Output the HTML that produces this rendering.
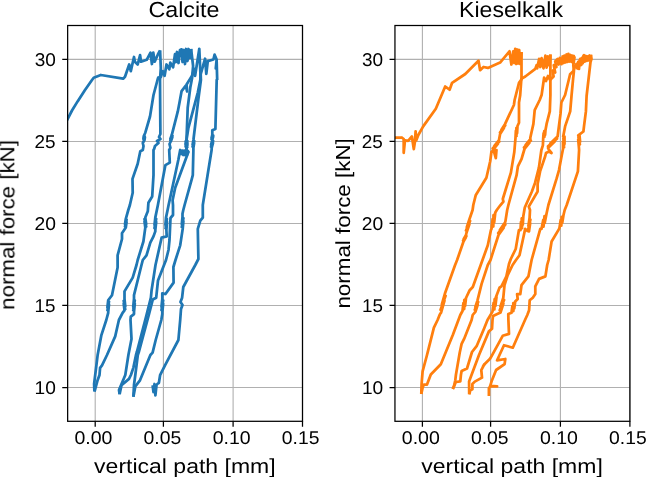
<!DOCTYPE html>
<html lang="en"><head><meta charset="utf-8"><title>Calcite / Kieselkalk normal force vs vertical path</title>
<style>html,body{margin:0;padding:0;background:#fff}body{width:646px;height:477px;overflow:hidden;font-family:"Liberation Sans",sans-serif}</style>
</head><body>
<svg width="646" height="477" viewBox="0 0 646 477" style="display:block;font-family:'Liberation Sans',sans-serif">
<rect width="646" height="477" fill="#fff"/>
<defs>
<clipPath id="c0"><rect x="67.65" y="25.5" width="234.85" height="395.8"/></clipPath>
<clipPath id="c1"><rect x="394.95" y="25.5" width="234.95" height="395.8"/></clipPath>
</defs>
<path d="M95.20,25.5V421.3M163.40,25.5V421.3M233.10,25.5V421.3M302.50,25.5V421.3M67.65,387.50H302.5M67.65,305.48H302.5M67.65,223.45H302.5M67.65,141.43H302.5M67.65,59.40H302.5" stroke="#b0b0b0" stroke-width="1.1" fill="none"/>
<g clip-path="url(#c0)">
<polyline points="66.0,122.0 67.6,119.0 72.0,110.5 77.6,101.4 85.0,90.0 92.0,80.0 93.7,77.7 100.8,75.0 123.1,78.7 125.0,76.8 129.2,64.5 130.8,71.1 134.0,57.0 134.9,61.7 137.7,64.5 140.1,55.1 141.0,61.7 146.7,59.8 150.5,52.7 151.9,64.0 153.3,52.7 154.7,61.7 158.0,54.2 160.1,50.4" fill="none" stroke="#1f77b4" stroke-width="2.75" stroke-linejoin="round" stroke-linecap="butt"/>
<polyline points="160.1,50.4 160.8,68.3 160.0,80.0 160.4,134.0 159.0,137.0 160.5,139.0 157.0,141.0 158.5,143.0 155.0,146.0 154.1,149.1 153.5,150.0 153.5,175.2 152.2,196.5 148.4,202.8 147.8,211.3 145.3,217.6 145.3,217.6 146.2,224.1 144.5,219.1 146.2,226.6 144.5,221.6 145.3,227.6 145.3,227.6 143.4,241.5 137.7,260.0 136.5,265.0 132.7,277.6 124.5,291.4 124.5,299.0 125.3,306.3 123.7,300.7 125.3,309.2 123.7,303.5 124.5,310.3 124.5,310.3 122.6,312.8 118.9,320.0 115.2,336.4 107.0,355.0 102.0,365.3 100.1,367.8 99.5,375.0 97.6,380.2 95.0,390.0 94.4,391.5" fill="none" stroke="#1f77b4" stroke-width="2.75" stroke-linejoin="round" stroke-linecap="butt"/>
<polyline points="94.4,391.5 94.1,384.0 97.6,355.3 101.4,335.1 106.3,320.0 108.2,312.8 108.2,312.0 109.0,304.4 107.4,310.2 109.0,301.5 107.4,307.3 108.2,300.3 108.2,300.3 112.0,295.2 117.6,267.5 117.6,255.3 122.0,239.0 122.0,233.3 125.8,227.6 125.8,227.6 126.6,221.9 125.0,226.3 126.6,219.7 125.0,224.1 125.8,218.8 125.8,218.8 128.3,210.0 129.9,205.0 132.7,192.8 132.5,178.9 137.7,163.8 140.3,151.3 142.8,150.0 143.5,146.0 142.8,143.0 144.5,140.0 144.5,140.0 144.9,137.4 143.5,139.4 144.7,136.4 143.4,138.4 143.8,136.0 143.8,136.0 145.3,132.7 150.0,116.5 153.5,95.0 157.5,80.0 158.2,77.7 160.8,77.0 162.7,71.1 164.6,75.8 166.5,64.5 169.3,69.2 170.3,62.6 173.1,67.4 175.0,54.2 176.0,62.0 177.0,52.0 178.5,63.0 180.0,50.0 181.6,49.4 182.5,62.0 183.5,50.0 185.0,64.0 186.0,49.0 187.5,61.0 188.5,49.0 190.0,58.0 191.1,48.8" fill="none" stroke="#1f77b4" stroke-width="2.75" stroke-linejoin="round" stroke-linecap="butt"/>
<polyline points="191.1,48.8 193.1,66.0 192.1,78.0 190.3,87.5 187.7,107.7 186.5,140.0 186.5,140.0 187.3,145.1 185.7,141.2 187.3,147.1 185.7,143.2 186.5,147.9 186.5,150.0 188.5,152.0 187.7,153.8 175.2,187.7 172.6,200.3 173.0,205.0 173.0,215.0 170.5,218.0 169.5,240.0 168.5,250.0 166.0,260.0 158.0,280.5 156.2,297.7 152.8,299.5 148.8,315.0 139.0,351.5 137.8,355.0 135.3,375.0 134.0,385.0 133.4,396.8" fill="none" stroke="#1f77b4" stroke-width="2.75" stroke-linejoin="round" stroke-linecap="butt"/>
<polyline points="119.6,394.2 121.5,385.2 129.0,378.9 130.9,375.0 133.4,367.6 136.0,355.0 137.0,351.5 146.5,315.0 150.9,297.7 151.6,290.2 155.5,265.0 161.6,237.7 166.7,236.4 166.4,230.0 166.4,230.0 167.0,221.9 165.5,228.1 166.9,218.8 165.4,225.0 166.0,217.6 166.0,217.6 167.6,210.0 168.6,205.0 178.3,160.0 180.2,150.0 181.3,154.0 182.2,150.6 183.2,155.0 184.2,150.6 185.2,155.2 186.0,150.6 187.0,155.0 187.8,151.0 186.5,150.0 186.5,147.9 187.3,142.8 185.7,146.7 187.3,140.8 185.7,144.7 186.5,140.0 186.5,140.0 188.4,127.8 197.8,92.6 200.3,80.0 200.7,74.0" fill="none" stroke="#1f77b4" stroke-width="2.75" stroke-linejoin="round" stroke-linecap="butt"/>
<polyline points="119.6,394.2 119.0,390.0 125.3,375.0 128.4,355.0 131.5,338.9 130.5,320.0 130.8,316.6 134.0,314.1 134.0,312.0 134.8,303.6 133.2,310.1 134.8,300.3 133.2,306.8 134.0,299.0 134.0,295.2 141.5,265.0 142.8,260.0 146.5,255.3 150.3,242.7 153.5,236.4 155.3,231.4 155.3,230.0 156.2,221.9 154.5,228.1 156.2,218.8 154.5,225.0 155.3,217.6 155.3,217.6 157.9,205.0 165.4,165.1 169.8,162.6 169.2,150.0 170.4,147.8 169.5,144.0 171.0,141.0 171.0,141.0 172.3,137.3 170.3,140.1 172.5,135.9 170.4,138.7 171.7,135.3 171.7,135.3 177.8,111.4 179.6,102.0 181.6,91.1 185.8,85.6 187.1,91.5 186.6,84.5 191.9,75.9 194.3,68.8 195.1,75.9 199.3,48.8 200.7,80.0" fill="none" stroke="#1f77b4" stroke-width="2.75" stroke-linejoin="round" stroke-linecap="butt"/>
<polyline points="133.4,396.8 135.3,386.4 140.0,380.3 150.4,355.0 152.6,352.6 155.7,340.0 161.3,320.0 162.3,314.0 162.3,312.0 163.2,303.6 161.5,310.1 163.2,300.3 161.5,306.8 162.3,299.0 162.3,293.3 165.5,294.0 173.6,282.6 173.4,267.0 175.5,260.0 180.2,245.3 182.7,228.9 182.7,228.9 183.4,221.2 181.8,227.1 183.4,218.2 181.8,224.1 182.5,217.0 182.5,213.8 183.3,210.0 184.6,205.0 191.5,180.2 192.8,175.2 193.4,150.0 193.4,147.9 194.2,142.8 192.6,146.7 194.2,140.8 192.6,144.7 193.4,140.0 193.4,140.0 198.4,98.9 200.9,80.0 200.7,74.0 205.1,58.7 206.3,73.8 207.8,61.1 213.4,59.5 214.6,54.7 216.6,59.5 215.8,68.3 216.6,59.5 217.2,80.0" fill="none" stroke="#1f77b4" stroke-width="2.75" stroke-linejoin="round" stroke-linecap="butt"/>
<polyline points="152.6,385.2 153.5,392.0 154.5,384.0 155.4,395.3 156.5,385.0 157.3,384.0 158.9,382.8 160.1,375.2 165.0,365.3 178.4,340.0 180.2,320.0 181.0,309.0 182.5,305.0 180.5,302.0 182.1,297.7 183.3,287.0 195.3,265.0 198.4,259.0 197.8,228.9 200.3,220.7 202.8,217.6 202.8,205.0 211.6,150.0 211.7,147.9 213.0,142.8 211.0,146.7 213.1,140.8 211.1,144.7 212.3,140.0 212.3,140.0 212.3,140.0 213.2,136.7 211.5,139.2 213.2,135.4 211.5,138.0 212.3,134.9 212.3,130.3 215.4,129.0 216.7,80.0 217.2,80.0" fill="none" stroke="#1f77b4" stroke-width="2.75" stroke-linejoin="round" stroke-linecap="butt"/>
</g>
<path d="M95.20,421.3v5.5M163.40,421.3v5.5M233.10,421.3v5.5M302.50,421.3v5.5M67.65,387.50h-5.4M67.65,305.48h-5.4M67.65,223.45h-5.4M67.65,141.43h-5.4M67.65,59.40h-5.4" stroke="#000" stroke-width="1.25" fill="none"/>
<rect x="67.65" y="25.5" width="234.85" height="395.80" fill="none" stroke="#000" stroke-width="1.25"/>
<path d="M422.40,25.5V421.3M490.60,25.5V421.3M560.40,25.5V421.3M629.90,25.5V421.3M394.95,387.50H629.9M394.95,305.48H629.9M394.95,223.45H629.9M394.95,141.43H629.9M394.95,59.40H629.9" stroke="#b0b0b0" stroke-width="1.1" fill="none"/>
<g clip-path="url(#c1)">
<polyline points="392.0,137.7 395.5,137.7 401.8,137.5 403.7,139.0 403.7,152.8 405.0,140.3 408.1,140.9 411.9,136.5 413.8,149.1 415.0,141.5 415.6,131.4 416.3,140.3 418.2,135.2 423.2,126.4 435.8,108.8 439.5,100.0 445.2,86.5 449.6,89.7 452.1,82.8 465.3,74.0 478.5,60.8 480.1,70.2 483.5,67.0 487.9,67.9 500.1,62.6 509.5,51.3 511.4,64.5 513.3,51.3 514.2,63.0 515.2,48.8 516.2,64.0 517.2,49.5 518.2,63.5 519.2,50.0 520.2,64.0 521.5,52.0" fill="none" stroke="#ff7f0e" stroke-width="2.75" stroke-linejoin="round" stroke-linecap="butt"/>
<polyline points="521.5,52.0 521.5,77.0 520.2,95.0 519.0,102.5 519.0,122.7 517.5,126.0 517.1,133.1 516.4,127.8 516.6,136.0 515.9,130.7 515.5,137.8 514.3,152.0 510.9,172.6 502.8,199.0 503.4,201.6 500.3,205.3 496.8,210.0 495.3,212.5 495.3,212.5 494.2,222.4 493.5,215.0 493.3,226.5 492.6,219.1 491.5,229.0 490.9,230.2 487.8,245.3 482.5,260.0 472.8,287.0 469.7,290.2 466.0,298.0 466.0,298.0 465.1,305.8 464.3,299.9 464.2,309.1 463.4,303.2 462.5,311.0 460.3,315.0 452.8,335.1 440.8,364.2 430.8,374.5 427.0,384.6 423.8,384.6 422.6,387.7 421.3,394.0" fill="none" stroke="#ff7f0e" stroke-width="2.75" stroke-linejoin="round" stroke-linecap="butt"/>
<polyline points="421.3,394.0 421.6,383.9 422.6,371.4 427.0,355.0 427.6,352.7 433.9,327.6 437.6,320.0 439.6,315.0 440.8,312.8 441.0,312.8 444.5,300.7 440.6,309.8 445.6,295.7 441.7,304.8 445.2,292.7 455.1,265.0 457.1,260.0 463.5,241.5 463.5,241.5 465.8,237.6 463.1,240.5 466.4,236.0 463.7,238.9 466.0,235.0 466.5,232.7 469.4,224.4 466.0,230.6 470.1,220.9 466.8,227.1 469.6,218.8 472.6,210.0 473.3,205.0 475.7,195.3 486.4,177.7 490.2,161.3 491.4,152.0 493.5,150.0 495.8,158.2 496.5,150.0 493.0,150.0 493.0,150.0 497.8,144.0 492.7,148.5 499.3,141.5 494.2,146.0 499.0,140.0 500.1,134.0 500.1,134.0 503.9,127.9 500.0,132.5 505.2,125.4 501.3,130.0 505.1,123.9 513.9,105.0 514.6,100.0 519.0,82.8 522.7,77.7 523.4,77.7 525.3,76.5 535.3,68.9 536.6,65.2 537.2,68.3 539.1,58.9 540.3,67.0 541.6,58.2 543.5,68.3 545.4,55.7 546.6,67.7 547.9,56.4 548.5,65.2 549.4,57.0 549.9,63.0 550.4,54.5" fill="none" stroke="#ff7f0e" stroke-width="2.75" stroke-linejoin="round" stroke-linecap="butt"/>
<polyline points="550.4,54.5 550.4,77.7 550.4,95.0 549.8,111.4 546.6,123.9 545.5,130.0 545.5,130.0 545.1,134.8 544.2,131.2 544.5,136.8 543.6,133.2 543.2,138.0 542.9,145.3 541.4,150.0 538.9,167.6 535.1,182.7 531.9,191.5 524.8,207.5 523.3,216.3 523.3,216.3 522.8,224.6 521.7,218.4 522.1,228.1 521.0,221.9 520.5,230.2 518.9,230.2 515.7,249.0 510.8,259.0 509.0,264.0 506.4,276.4 501.4,286.4 499.5,287.7 495.7,297.7 496.5,297.0 495.4,305.8 494.6,299.2 494.4,309.4 493.6,302.8 492.5,311.6 487.5,320.0 484.0,328.8 476.8,345.8 472.0,352.0 467.0,368.5 461.6,371.0 460.9,375.0 460.3,381.4 455.9,382.0 452.8,389.0" fill="none" stroke="#ff7f0e" stroke-width="2.75" stroke-linejoin="round" stroke-linecap="butt"/>
<polyline points="452.8,389.0 454.0,386.0 455.3,380.2 455.9,375.0 459.7,352.7 461.6,343.9 464.1,338.9 471.6,320.0 472.7,315.0 475.5,311.6 475.5,311.6 477.7,304.8 474.8,309.9 478.2,302.0 475.3,307.1 477.5,300.3 481.6,283.9 487.8,265.0 490.5,260.0 497.2,239.0 498.5,235.0 498.5,235.0 503.7,227.6 498.2,233.1 505.3,224.5 499.8,230.0 505.0,222.6 505.4,221.4 507.2,210.0 508.4,205.0 516.6,175.2 517.9,166.4 521.6,158.8 522.7,155.0 524.5,149.0 524.5,149.0 529.3,143.0 524.0,147.5 530.8,140.5 525.5,145.0 530.3,139.0 530.3,137.8 533.4,123.9 534.7,110.1 539.7,100.0 541.6,95.0 544.1,77.7 546.0,81.0 548.0,76.0 550.0,80.0 553.6,76.5 552.6,70.5 555.2,72.5 553.8,65.2 556.4,67.0 555.2,61.5 557.6,58.9 558.6,64.5 559.8,58.0 561.4,64.2 562.6,56.5 563.6,63.0 564.4,55.7 565.6,62.4 566.6,54.5 567.6,61.8 568.4,53.9 569.6,61.5 570.6,55.0 571.4,61.6 572.2,55.7 573.0,63.0 573.8,56.0 574.6,56.4" fill="none" stroke="#ff7f0e" stroke-width="2.75" stroke-linejoin="round" stroke-linecap="butt"/>
<polyline points="574.6,56.4 573.3,65.2 573.9,71.3 573.1,78.9 571.5,96.0 570.2,111.4 565.1,126.4 563.2,136.5 564.5,136.5 564.5,144.0 563.4,138.4 564.1,147.1 563.0,141.5 563.0,149.0 562.8,150.0 561.8,155.0 559.0,170.1 556.5,178.9 548.4,205.0 546.5,213.8 546.5,213.8 544.7,222.9 544.5,216.1 543.5,226.6 543.3,219.8 541.5,228.9 540.3,228.9 531.6,260.0 528.4,276.4 521.5,285.2 520.3,294.0 517.1,294.0 517.7,299.0 515.2,301.5 515.2,301.5 514.3,308.3 513.3,303.2 513.4,311.1 512.4,306.0 511.5,312.8 508.3,314.1 508.4,320.0 509.0,333.9 502.7,335.8 492.0,355.3 490.0,358.8 485.5,363.2 483.0,366.5 484.3,364.3 481.3,370.1 482.0,377.6 474.8,381.6 472.4,384.0 472.4,389.3 470.4,390.2 469.2,394.3" fill="none" stroke="#ff7f0e" stroke-width="2.75" stroke-linejoin="round" stroke-linecap="butt"/>
<polyline points="469.2,394.3 469.1,381.4 471.5,375.0 479.0,355.0 488.9,331.4 492.0,328.8 492.5,320.0 493.0,316.0 500.5,312.5 500.5,312.5 503.4,303.6 499.7,310.3 504.1,299.9 500.4,306.6 503.3,297.7 504.5,285.2 507.7,275.1 512.6,265.0 516.0,260.0 519.5,255.3 523.3,237.7 525.2,228.9 527.5,231.0 529.0,231.4 530.2,223.1 528.2,229.3 530.4,219.7 528.4,225.9 529.6,217.6 530.0,210.0 528.8,206.6 537.6,191.5 537.6,184.0 540.1,171.4 545.2,156.3 546.0,153.0 549.0,151.5 551.5,153.0 549.0,150.0 548.0,148.0 548.0,148.0 554.7,141.4 548.0,146.3 557.0,138.7 550.3,143.6 557.0,137.0 557.6,136.5 560.5,113.9 561.4,102.5 565.1,95.0 570.1,74.3 573.5,71.0 575.2,66.0 576.4,63.9 577.4,68.5 578.2,62.0 579.0,68.9 579.6,60.5 580.2,58.9 581.2,65.0 582.0,58.0 582.7,63.3 583.4,56.0 584.0,55.1 585.0,61.5 585.9,56.0 586.8,60.8 587.8,56.4 588.6,60.4 589.6,55.5 590.2,60.0 590.9,54.8" fill="none" stroke="#ff7f0e" stroke-width="2.75" stroke-linejoin="round" stroke-linecap="butt"/>
<polyline points="590.9,54.8 591.5,58.9 590.5,62.0 586.6,96.0 585.9,111.4 584.0,126.4 583.4,131.5 578.3,135.3 579.5,135.3 580.1,141.7 578.4,136.9 579.9,144.4 578.2,139.6 578.8,146.0 579.1,150.0 577.9,171.4 566.7,205.0 564.7,210.0 563.5,215.0 563.5,215.0 562.3,222.6 561.7,216.9 561.3,225.7 560.7,220.0 559.5,227.6 559.1,228.9 551.6,241.5 548.6,260.0 547.2,265.0 545.4,276.4 539.1,278.9 535.3,286.4 535.3,294.0 532.8,297.7 529.7,300.3 529.1,310.3 527.3,315.0 525.0,320.0 512.8,347.7 504.0,345.2 497.1,360.3 505.3,359.0 504.6,364.1 496.1,370.0 492.0,380.2 490.2,385.8 497.1,386.4 490.2,386.4 488.9,388.3 488.9,395.9" fill="none" stroke="#ff7f0e" stroke-width="2.75" stroke-linejoin="round" stroke-linecap="butt"/>
</g>
<path d="M422.40,421.3v5.5M490.60,421.3v5.5M560.40,421.3v5.5M629.90,421.3v5.5M394.95,387.50h-5.4M394.95,305.48h-5.4M394.95,223.45h-5.4M394.95,141.43h-5.4M394.95,59.40h-5.4" stroke="#000" stroke-width="1.25" fill="none"/>
<rect x="394.95" y="25.5" width="234.95" height="395.80" fill="none" stroke="#000" stroke-width="1.25"/>
<g opacity="0.999" text-rendering="geometricPrecision">
<text x="148.42" y="17.0" font-size="21.84" textLength="71.12" lengthAdjust="spacingAndGlyphs" fill="#000">Calcite</text>
<text x="459.11" y="17.0" font-size="21.84" textLength="103.86" lengthAdjust="spacingAndGlyphs" fill="#000">Kieselkalk</text>
<text x="74.52" y="443.85" font-size="18.49" textLength="37.96" lengthAdjust="spacingAndGlyphs" fill="#000">0.00</text>
<text x="143.62" y="443.85" font-size="18.49" textLength="37.64" lengthAdjust="spacingAndGlyphs" fill="#000">0.05</text>
<text x="212.72" y="443.85" font-size="18.49" textLength="37.96" lengthAdjust="spacingAndGlyphs" fill="#000">0.10</text>
<text x="281.82" y="443.85" font-size="18.49" textLength="37.64" lengthAdjust="spacingAndGlyphs" fill="#000">0.15</text>
<text x="34.61" y="394.35" font-size="18.49" textLength="21.28" lengthAdjust="spacingAndGlyphs" fill="#000">10</text>
<text x="34.64" y="312.33" font-size="18.44" textLength="20.93" lengthAdjust="spacingAndGlyphs" fill="#000">15</text>
<text x="34.47" y="230.3" font-size="18.49" textLength="21.43" lengthAdjust="spacingAndGlyphs" fill="#000">20</text>
<text x="34.48" y="148.28" font-size="18.49" textLength="21.1" lengthAdjust="spacingAndGlyphs" fill="#000">25</text>
<text x="34.76" y="66.25" font-size="18.49" textLength="21.13" lengthAdjust="spacingAndGlyphs" fill="#000">30</text>
<text x="401.82" y="443.85" font-size="18.49" textLength="37.96" lengthAdjust="spacingAndGlyphs" fill="#000">0.00</text>
<text x="470.92" y="443.85" font-size="18.49" textLength="37.64" lengthAdjust="spacingAndGlyphs" fill="#000">0.05</text>
<text x="540.02" y="443.85" font-size="18.49" textLength="37.96" lengthAdjust="spacingAndGlyphs" fill="#000">0.10</text>
<text x="609.12" y="443.85" font-size="18.49" textLength="37.64" lengthAdjust="spacingAndGlyphs" fill="#000">0.15</text>
<text x="361.91" y="394.35" font-size="18.49" textLength="21.28" lengthAdjust="spacingAndGlyphs" fill="#000">10</text>
<text x="361.94" y="312.33" font-size="18.44" textLength="20.93" lengthAdjust="spacingAndGlyphs" fill="#000">15</text>
<text x="361.77" y="230.3" font-size="18.49" textLength="21.43" lengthAdjust="spacingAndGlyphs" fill="#000">20</text>
<text x="361.78" y="148.28" font-size="18.49" textLength="21.1" lengthAdjust="spacingAndGlyphs" fill="#000">25</text>
<text x="362.06" y="66.25" font-size="18.49" textLength="21.13" lengthAdjust="spacingAndGlyphs" fill="#000">30</text>
<text x="94.12" y="473.0" font-size="20.38" textLength="181.52" lengthAdjust="spacingAndGlyphs" fill="#000">vertical path [mm]</text>
<text x="421.32" y="473.0" font-size="20.38" textLength="181.52" lengthAdjust="spacingAndGlyphs" fill="#000">vertical path [mm]</text>
<text x="14.1" y="309.78" font-size="20.38" textLength="169.77" lengthAdjust="spacingAndGlyphs" transform="rotate(-90 14.1 309.78)" fill="#000">normal force [kN]</text>
<text x="349.7" y="308.59" font-size="20.38" textLength="170.38" lengthAdjust="spacingAndGlyphs" transform="rotate(-90 349.7 308.59)" fill="#000">normal force [kN]</text>
</g>
</svg>
</body></html>
